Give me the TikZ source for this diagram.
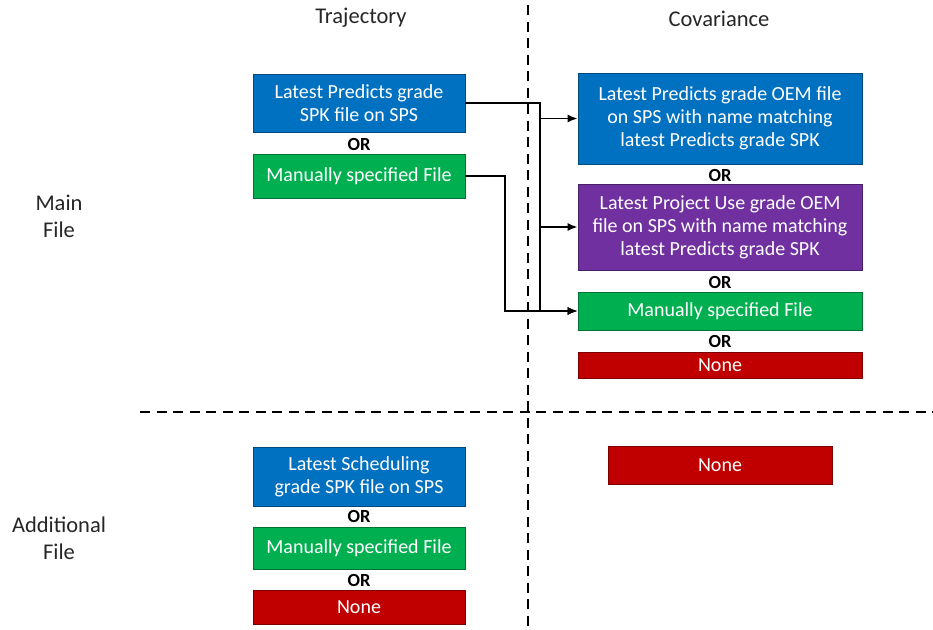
\documentclass[tikz,border=0pt]{standalone}
\usepackage{fontspec}
\setmainfont{Carlito}
\usepackage{tikz}
\usetikzlibrary{arrows.meta}

\definecolor{boxblue}{HTML}{0070C0}
\definecolor{boxgreen}{HTML}{00B050}
\definecolor{boxpurple}{HTML}{7030A0}
\definecolor{boxred}{HTML}{C00000}
\definecolor{headgray}{HTML}{262626}

\tikzset{
    filebox/.style={draw=#1!65!black, line width=0.8pt, fill=#1, text=white,
        align=center, inner sep=0pt, font=\fontsize{20}{23}\selectfont},
    ortext/.style={font=\fontsize{18.5}{20}\selectfont\bfseries},
    header/.style={text=headgray, font=\fontsize{22.5}{27}\selectfont, align=center},
    divider/.style={line width=2.6pt, dash pattern=on 10pt off 6.5pt},
    link/.style={line width=1.6pt, -{Latex[length=10pt,width=8pt]}}
}

\begin{document}
\begin{tikzpicture}[x=1pt, y=-1pt]

\useasboundingbox (0,0) rectangle (933,629);

% Column and row headings
\node[header] (traj) at (361,18) {Trajectory};
\node[header] (cov) at (719,19) {Covariance};
\node[header] (mainf) at (59,216) {Main\\File};
\node[header] (addf) at (59,538) {Additional\\File};

% Dividers
\draw[divider] (528,5) -- (528,629);
\draw[divider] (140,412) -- (933,412);

% Main file, trajectory
\node[filebox=boxblue, minimum width=212pt, minimum height=58pt] (t1) at (359,103)
    {Latest Predicts grade\\SPK file on SPS};
\node[ortext] (or1) at (359,144) {OR};
\node[filebox=boxgreen, minimum width=212pt, minimum height=44pt] (t2) at (359,176)
    {Manually specified File};

% Main file, covariance
\node[filebox=boxblue, minimum width=284pt, minimum height=91pt] (c1) at (720,118.5)
    {Latest Predicts grade OEM file\\on SPS with name matching\\latest Predicts grade SPK};
\node[ortext] (or2) at (720,175) {OR};
\node[filebox=boxpurple, minimum width=284pt, minimum height=86pt] (c2) at (720,227)
    {Latest Project Use grade OEM\\file on SPS with name matching\\latest Predicts grade SPK};
\node[ortext] (or3) at (720,282) {OR};
\node[filebox=boxgreen, minimum width=284pt, minimum height=38pt] (c3) at (720,311)
    {Manually specified File};
\node[ortext] (or4) at (720,341) {OR};
\node[filebox=boxred, minimum width=284pt, minimum height=26pt] (c4) at (720,365)
    {None};

% Additional file, trajectory
\node[filebox=boxblue, minimum width=212pt, minimum height=59pt] (a1) at (359,476.5)
    {Latest Scheduling\\grade SPK file on SPS};
\node[ortext] (or5) at (359,516) {OR};
\node[filebox=boxgreen, minimum width=212pt, minimum height=42pt] (a2) at (359,548)
    {Manually specified File};
\node[ortext] (or6) at (359,580) {OR};
\node[filebox=boxred, minimum width=212pt, minimum height=34pt] (a3) at (359,607)
    {None};

% Additional file, covariance
\node[filebox=boxred, minimum width=224pt, minimum height=38pt] (cn) at (720,465)
    {None};

% Connectors
\coordinate (bus) at (540,103);
\coordinate (bend) at (505,176);
\draw[link] (t1.east) -- (bus) |- (c3.west);
\draw[link] (bus |- c1.west) -- (c1.west);
\draw[link] (bus |- c2.west) -- (c2.west);
\draw[link] (t2.east) -- (bend) |- (c3.west);

\end{tikzpicture}
\end{document}
